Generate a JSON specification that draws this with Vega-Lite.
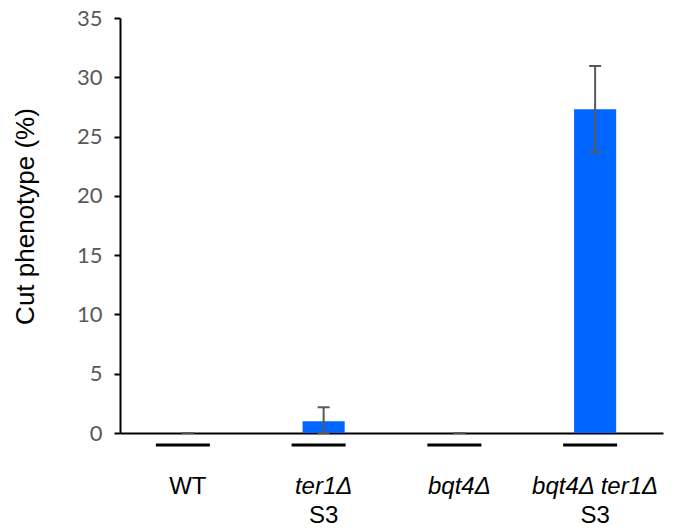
{
  "$schema": "https://vega.github.io/schema/vega-lite/v6.json",
  "width": 543,
  "height": 415,
  "autosize": "none",
  "padding": {"left": 120, "top": 18, "right": 17, "bottom": 99},
  "background": "white",
  "config": {"view": {"stroke": null}},
  "datasets": {
    "bars": [
      {"strain": "WT", "value": 0, "low": 0, "high": 0},
      {"strain": "ter1Δ S3", "value": 1.0, "low": 0, "high": 2.17},
      {"strain": "bqt4Δ", "value": 0, "low": 0, "high": 0},
      {"strain": "bqt4Δ ter1Δ S3", "value": 27.3, "low": 23.67, "high": 30.95}
    ],
    "labels": [
      {"strain": "WT", "text": "WT", "line": 1, "italic": false},
      {"strain": "ter1Δ S3", "text": "ter1Δ", "line": 1, "italic": true},
      {"strain": "ter1Δ S3", "text": "S3", "line": 2, "italic": false},
      {"strain": "bqt4Δ", "text": "bqt4Δ", "line": 1, "italic": true},
      {"strain": "bqt4Δ ter1Δ S3", "text": "bqt4Δ ter1Δ", "line": 1, "italic": true},
      {"strain": "bqt4Δ ter1Δ S3", "text": "S3", "line": 2, "italic": false}
    ]
  },
  "encoding": {
    "x": {
      "field": "strain",
      "type": "nominal",
      "scale": {"domain": ["WT", "ter1Δ S3", "bqt4Δ", "bqt4Δ ter1Δ S3"], "paddingInner": 0, "paddingOuter": 0},
      "axis": {"labels": false, "ticks": false, "title": null, "domainColor": "black", "domainWidth": 2}
    }
  },
  "layer": [
    {
      "data": {"name": "bars"},
      "mark": {"type": "bar", "color": "#0066FF", "width": {"band": 0.31}},
      "encoding": {
        "y": {
          "field": "value",
          "type": "quantitative",
          "scale": {"domain": [0, 35], "nice": false},
          "axis": {
            "values": [0, 5, 10, 15, 20, 25, 30, 35],
            "grid": false,
            "domainColor": "black",
            "domainWidth": 2,
            "tickColor": "black",
            "tickWidth": 2,
            "tickSize": 6,
            "labelPadding": 12,
            "labelFont": "Lato",
            "labelFontSize": 22,
            "labelColor": "#595959",
            "title": "Cut phenotype (%)",
            "titleFont": "Liberation Sans",
            "titleFontSize": 26,
            "titleFontWeight": "normal",
            "titleColor": "black",
            "titleX": -82,
            "titleY": 198
          }
        }
      }
    },
    {
      "data": {"name": "bars"},
      "mark": {"type": "rule", "color": "#595959", "strokeWidth": 2},
      "encoding": {
        "y": {"field": "low", "type": "quantitative"},
        "y2": {"field": "high"}
      }
    },
    {
      "data": {"name": "bars"},
      "mark": {"type": "tick", "color": "#595959", "opacity": 1, "thickness": 2, "size": 12, "orient": "horizontal"},
      "encoding": {"y": {"field": "high", "type": "quantitative"}}
    },
    {
      "data": {"name": "bars"},
      "mark": {"type": "tick", "color": "#595959", "opacity": 1, "thickness": 2, "size": 12, "orient": "horizontal"},
      "encoding": {"y": {"field": "low", "type": "quantitative"}}
    },
    {
      "data": {"name": "bars"},
      "mark": {"type": "tick", "color": "black", "opacity": 1, "thickness": 3, "size": 54, "orient": "horizontal", "yOffset": 12, "xOffset": -5, "clip": false},
      "encoding": {"y": {"datum": 0}}
    },
    {
      "data": {"name": "labels"},
      "transform": [{"filter": "datum.line == 1 && !datum.italic"}],
      "mark": {"type": "text", "font": "Liberation Sans", "fontSize": 24, "baseline": "alphabetic", "dy": 61, "color": "black"},
      "encoding": {"y": {"datum": 0}, "text": {"field": "text"}}
    },
    {
      "data": {"name": "labels"},
      "transform": [{"filter": "datum.line == 1 && datum.italic"}],
      "mark": {"type": "text", "font": "Liberation Sans", "fontStyle": "italic", "fontSize": 24, "baseline": "alphabetic", "dy": 61, "color": "black"},
      "encoding": {"y": {"datum": 0}, "text": {"field": "text"}}
    },
    {
      "data": {"name": "labels"},
      "transform": [{"filter": "datum.line == 2"}],
      "mark": {"type": "text", "font": "Liberation Sans", "fontSize": 24, "baseline": "alphabetic", "dy": 90, "color": "black"},
      "encoding": {"y": {"datum": 0}, "text": {"field": "text"}}
    }
  ]
}
